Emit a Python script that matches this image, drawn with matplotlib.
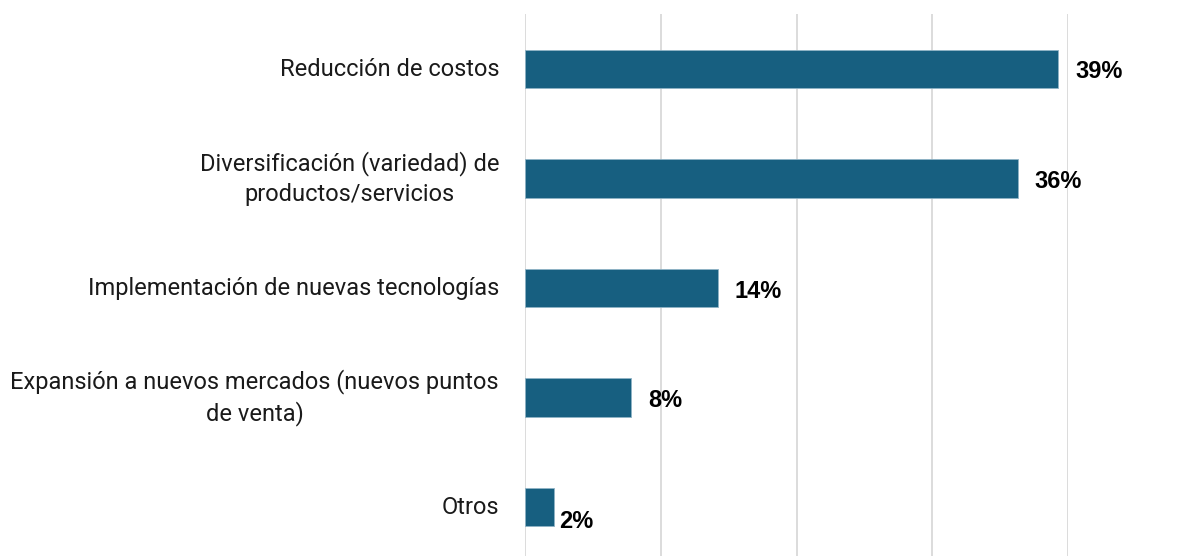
import matplotlib
matplotlib.use("Agg")
import matplotlib.pyplot as plt

categories = [
    "Reducción de costos",
    "Diversificación (variedad) de\nproductos/servicios",
    "Implementación de nuevas tecnologías",
    "Expansión a nuevos mercados (nuevos puntos\nde venta)",
    "Otros",
]
values = [39.3, 36.3, 14.2, 7.8, 2.1]
value_labels = ["39%", "36%", "14%", "8%", "2%"]

BAR_COLOR = "#175f80"
GRID_COLOR = "#d9d9d9"

fig = plt.figure(figsize=(11.9, 5.56), dpi=100)
ax = fig.add_axes([525/1190, -5.75/556, (1068-525)/1190, 547.5/556])

y = list(range(len(categories)))
ax.barh(y, values, height=0.356, color=BAR_COLOR, edgecolor="#8fb3c6", linewidth=0.6, zorder=3)

ax.set_xlim(0, 40)
ax.set_ylim(4.5, -0.5)
ax.set_xticks([0, 10, 20, 30, 40])
ax.xaxis.grid(True, color=GRID_COLOR, linewidth=1.3, zorder=0)
ax.tick_params(axis="x", length=0, labelbottom=False)
ax.tick_params(axis="y", length=0)
for s in ax.spines.values():
    s.set_visible(False)

ax.set_yticks(y)
ax.set_yticklabels([])
for yi, cat in zip(y, categories):
    ax.annotate(cat, xy=(0, yi), xycoords="data", xytext=(-26, 0), textcoords="offset pixels",
                ha="right", va="center", multialignment="center",
                fontsize=17, family=["Roboto", "DejaVu Sans"], color="#1a1a1a", linespacing=1.4)

for i, (v, lab) in enumerate(zip(values, value_labels)):
    if i == len(values) - 1:
        dx, dy = 6, -14
    else:
        dx, dy = 17, -3
    ax.annotate(lab, xy=(v, i), xycoords="data", xytext=(dx, dy), textcoords="offset pixels",
                ha="left", va="center", fontsize=17, fontweight="bold",
                family=["Liberation Sans", "DejaVu Sans"], color="#000000")

fig.savefig("out.png", dpi=100)
